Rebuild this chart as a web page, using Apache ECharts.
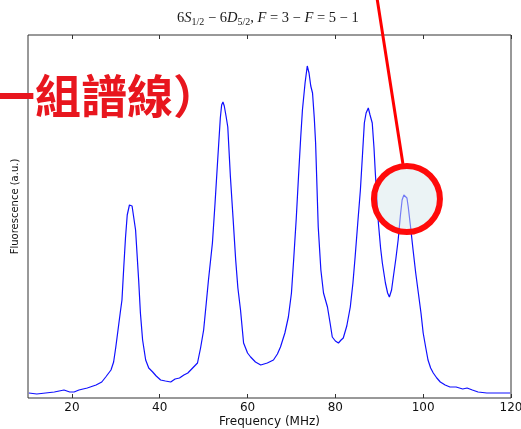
<!DOCTYPE html>
<html><head><meta charset="utf-8">
<script src="https://cdn.jsdelivr.net/npm/echarts@6/dist/echarts.min.js"></script>
<style>html,body{margin:0;padding:0;background:#fff}#c{width:521px;height:429px}</style>
</head><body><div id="c"></div>
<script>
// Frequency (MHz)
const freqMHz = [10.2,12,14,16,18.2,19.5,20.5,21.6,23.5,25.5,26.8,27.7,28.9,29.5,30.0,30.5,31.0,31.4,31.8,32.2,32.6,33.1,33.4,33.7,34.0,34.5,35.2,35.6,36.1,36.8,37.5,38.4,39.2,40.2,41.3,42.5,43.5,44.5,45.5,46.4,47.5,48.6,49.3,50.0,50.6,51.1,52.0,52.6,53.2,53.8,54.1,54.4,54.7,55.1,55.5,56.1,56.7,57.3,57.8,58.4,59.1,60.0,60.7,61.8,63.0,64.5,65.9,66.8,67.5,68.5,69.3,70.0,70.5,71.1,71.6,72.1,72.5,73.1,73.6,74.0,74.4,74.8,75.2,75.5,76.1,76.7,77.3,78.2,78.8,79.3,80.0,80.7,81.3,81.8,82.6,83.4,84.0,84.5,85.1,85.7,86.2,86.6,87.0,87.5,87.9,88.4,88.8,89.1,89.8,90.3,90.7,91.4,91.9,92.3,92.8,93.2,93.8,94.3,94.8,95.2,95.6,95.9,96.3,96.6,97.1,97.7,98.3,98.9,99.5,100.0,100.6,101.1,101.7,102.3,103.1,103.9,105.0,106.1,107.5,109.0,110.0,111.2,112.5,114.5,116.5,118.0,119.8];
// Fluorescence (a.u.)
const fluorescence = [5,4,5,6,8,6,6,8,10,13,16,21,28,36,51,68,85,98,130,160,183,193,195,192,190,168,118,85,58,38,30,26,22,18,17,16,19,20,23,25,30,35,50,68,95,118,155,195,238,280,293,296,292,282,271,221,180,138,110,88,55,45,41,36,33,35,38,44,51,65,81,105,138,180,221,260,288,315,332,325,312,305,280,255,171,128,105,91,75,61,57,55,58,60,72,91,115,141,175,208,245,275,285,290,283,275,250,225,175,150,135,115,105,101,108,121,140,158,182,198,203,205,200,191,172,148,125,105,85,65,50,38,30,25,20,16,13,11,11,9,10,8,6,5,5,5,5];
const xTickValues = [20,40,60,80,100,120];
const circledPeak = [96.3, 199];  // the circled (fifth) peak, data coords

const chart = echarts.init(document.getElementById('c'), null, {renderer:'canvas'});
const sansFont = 'DejaVu Sans';
const serif = {fontFamily:'Liberation Serif',fontWeight:'normal',color:'#1a1a1a'};
const option = {
  animation:false,
  backgroundColor:'#fff',
  title:{
    left:177, top:9, padding:0,
    text:'{n|6}{i|S}{s|1/2}{n| − 6}{i|D}{s|5/2}{n|, }{i|F}{n| = 3 − }{i|F}{n| = 5 − 1}',
    textStyle:{
      fontWeight:'normal',
      rich:{
        n:Object.assign({fontSize:14.5,lineHeight:18},serif),
        i:Object.assign({fontSize:14.5,fontStyle:'italic',lineHeight:18},serif),
        s:Object.assign({fontSize:10,lineHeight:12,verticalAlign:'bottom'},serif)
      }
    }
  },
  grid:{left:28,right:10,top:35,bottom:31,outerBoundsMode:'none',containLabel:false,show:true,borderColor:'#333',borderWidth:1,backgroundColor:'transparent'},
  xAxis:[{
    type:'value',min:10,max:120,position:'bottom',
    name:'Frequency (MHz)',nameLocation:'middle',nameGap:17.5,nameMoveOverlap:false,
    nameTextStyle:{fontFamily:sansFont,fontSize:12,color:'#111'},
    axisLine:{show:false},
    axisTick:{show:true,inside:true,length:4,lineStyle:{color:'#333'},customValues:xTickValues},
    axisLabel:{fontFamily:sansFont,fontSize:12,color:'#111',margin:4,customValues:xTickValues},
    splitLine:{show:false}
  },{
    type:'value',min:10,max:120,position:'top',
    axisLine:{show:false},
    axisTick:{show:true,inside:true,length:4,lineStyle:{color:'#333'},customValues:xTickValues},
    axisLabel:{show:false},
    splitLine:{show:false}
  }],
  yAxis:{
    type:'value',min:0,max:363,
    name:'Fluorescence (a.u.)',nameLocation:'middle',nameGap:8,nameMoveOverlap:false,
    nameTextStyle:{fontFamily:sansFont,fontSize:10,color:'#111',padding:[0,0,0,20]},
    axisLine:{show:false},axisTick:{show:false},axisLabel:{show:false},splitLine:{show:false}
  },
  series:[{
    type:'line',xAxisIndex:0,
    data:freqMHz.map((f,i)=>[f,fluorescence[i]]),
    showSymbol:false,symbol:'none',
    lineStyle:{color:'#1010ff',width:1.2},
    z:2
  }]
};
chart.setOption(option);

const c = chart.convertToPixel({xAxisIndex:0,yAxisIndex:0}, circledPeak);
const R = 33;
chart.setOption({
  graphic:[
    {type:'text',left:-11,top:73,z:100,style:{text:'一組譜線）',fill:'#e8161e',font:'bold 46px "Noto Sans CJK TC"'}},
    {type:'line',z:100,shape:{x1:377,y1:-2,x2:c[0]-4,y2:c[1]-R-2},style:{stroke:'#ff0000',lineWidth:3}},
    {type:'circle',z:101,shape:{cx:c[0],cy:c[1],r:R},style:{fill:'rgba(215,232,236,0.5)',stroke:'#ff0a0a',lineWidth:6}}
  ]
});
</script>
</body></html>
